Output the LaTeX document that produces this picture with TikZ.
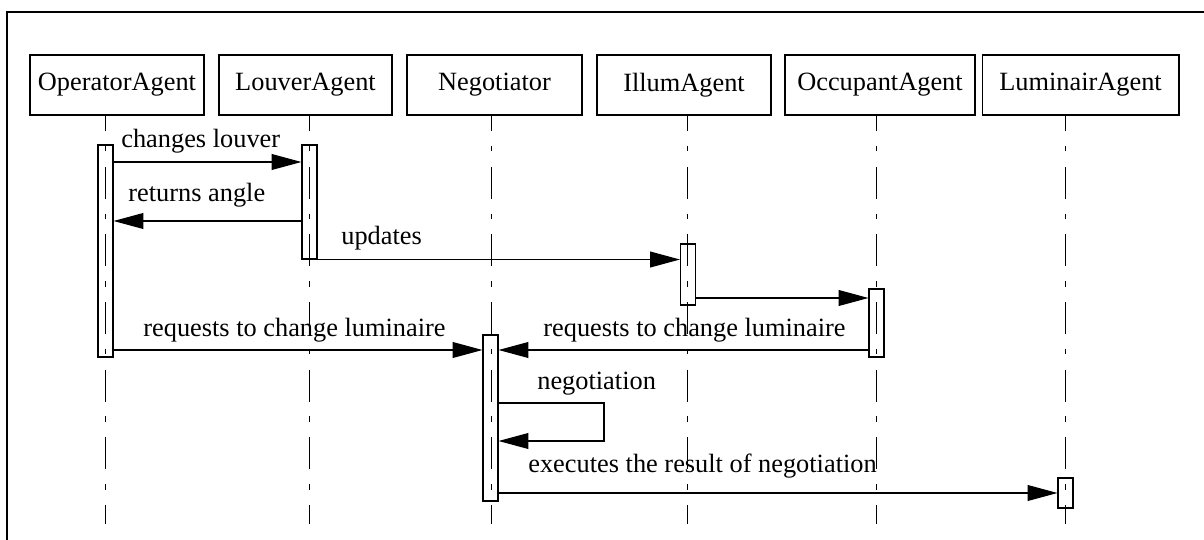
\documentclass[tikz,border=0pt]{standalone}
\usepackage{fontspec}
\setmainfont{Liberation Serif}
\usetikzlibrary{arrows.meta,positioning}

\begin{document}
\begin{tikzpicture}[x=0.02cm,y=-0.02cm,font=\fontsize{15}{18}\selectfont,
          agent/.style={draw,line width=0.6pt,minimum height=1.2cm,inner sep=0},
          act/.style={draw,line width=0.6pt,minimum width=0.3cm,inner sep=0},
          life/.style={line width=0.55pt,dash pattern=on 18.1pt off 8.5pt on 3.1pt off 8.8pt,dash phase=9pt},
          msg/.style={-{Triangle[length=17pt,width=9pt]},line width=0.7pt},
          lbl/.style={anchor=base west,inner sep=0}]
        \useasboundingbox (0,0) rectangle (1204,540);
        \draw[line width=0.6pt] (7,540) -- (7,12) -- (1204,12);

        % agents
        \node[agent,minimum width=3.48cm] (op) at (117,85) {OperatorAgent};
        \node[agent,minimum width=3.46cm] (louver) at (305.5,85) {LouverAgent};
        \node[agent,minimum width=3.5cm] (neg) at (494.5,85) {Negotiator};
        \node[agent,minimum width=3.48cm] (illum) at (684,85) {IllumAgent};
        \node[agent,minimum width=3.8cm] (occ) at (880,85) {OccupantAgent};
        \node[agent,minimum width=3.94cm] (lum) at (1080.5,85) {LuminairAgent};

        % lifelines
        \foreach \n/\x in {op/105,louver/309,neg/491,illum/687,occ/876,lum/1065}{
          \coordinate (\n-top) at (\x,115);
          \coordinate (\n-end) at (\x,524);
          \draw[life] (\n-top) -- (\n-end);
        }

        % activations
        \node[act,minimum height=4.24cm] (opAct) at (105.5,251) {};
        \node[act,minimum height=2.28cm] (louverAct) at (309.5,202) {};
        \node[act,minimum height=1.22cm] (illumAct) at (688,274.5) {};
        \node[act,minimum height=1.36cm] (occAct) at (876.5,323) {};
        \node[act,minimum height=3.32cm] (negAct) at (490.5,418) {};
        \node[act,minimum height=0.6cm] (lumAct) at (1065.5,493) {};

        % messages
        \draw[msg] (opAct.east |- 0,162) -- (louverAct.west |- 0,162);
        \node[lbl] (m1) at (121,148) {changes louver};
        \draw[msg] (louverAct.west |- 0,221) -- (opAct.east |- 0,221);
        \node[lbl] (m2) at (128,202) {returns angle};
        \draw[msg] (louverAct.south west) -- (illumAct.west |- louverAct.south);
        \node[lbl] (m3) at (341,245) {updates};
        \draw[msg] (illumAct.east |- 0,298) -- (occAct.west |- 0,298);
        \draw[msg] (opAct.east |- 0,350) -- (negAct.west |- 0,350);
        \node[lbl] (m4) at (143,337) {requests to change luminaire};
        \draw[msg] (occAct.west |- 0,350) -- (negAct.east |- 0,350);
        \node[lbl] (m5) at (543,337) {requests to change luminaire};
        \coordinate (loop) at (604,403);
        \draw[msg] (negAct.east |- loop) -- (loop) |- (negAct.east |- 0,441);
        \node[lbl] (m6) at (537,390) {negotiation};
        \draw[msg] (negAct.east |- lumAct) -- (lumAct.west);
        \node[lbl] (m7) at (528,473) {executes the result of negotiation};
      \end{tikzpicture}
\end{document}
